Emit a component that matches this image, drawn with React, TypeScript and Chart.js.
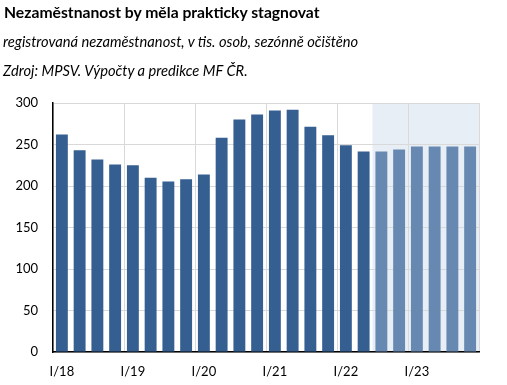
import React, { useEffect, useRef } from "react";
import { Chart, registerables } from "chart.js";

Chart.register(...registerables);

const TITLE = "Nezaměstnanost by měla prakticky stagnovat";
const SUBTITLE = "registrovaná nezaměstnanost, v tis. osob, sezónně očištěno";
const SOURCE = "Zdroj: MPSV. Výpočty a predikce MF ČR.";

const quarters = [
  "I/18", "II/18", "III/18", "IV/18",
  "I/19", "II/19", "III/19", "IV/19",
  "I/20", "II/20", "III/20", "IV/20",
  "I/21", "II/21", "III/21", "IV/21",
  "I/22", "II/22", "III/22", "IV/22",
  "I/23", "II/23", "III/23", "IV/23",
];

const unemployment = [
  262, 243, 232, 226,
  225, 210, 205.5, 208,
  214, 258, 280, 286,
  291, 292, 271.5, 261,
  249, 241.5, 241.5, 244,
  247.5, 247.5, 247.5, 247.5,
];

const FORECAST_START = 18;
const yTicks = [0, 50, 100, 150, 200, 250, 300];

const FONT = "Lato, 'Open Sans', sans-serif";
const DARK = "#355e91";
const LIGHT = "#6788b0";
const SHADE = "#e8eef5";
const GRID = "#d9d9d9";

const shadePlugin = {
  id: "forecastShade",
  beforeDraw(chart: any) {
    const { ctx, chartArea, scales } = chart;
    const x = scales.x;
    const left =
      (x.getPixelForValue(FORECAST_START - 1) + x.getPixelForValue(FORECAST_START)) / 2;
    ctx.save();
    ctx.fillStyle = SHADE;
    ctx.fillRect(left, chartArea.top, chartArea.right - left, chartArea.bottom - chartArea.top);
    ctx.restore();
  },
};

export default function App() {
  const ref = useRef<HTMLCanvasElement | null>(null);

  useEffect(() => {
    if (!ref.current) return;
    const chart = new Chart(ref.current, {
      type: "bar",
      data: {
        labels: quarters,
        datasets: [
          {
            data: unemployment,
            backgroundColor: unemployment.map((_, i) => (i >= FORECAST_START ? LIGHT : DARK)),
            borderWidth: 0,
            categoryPercentage: 1,
            barPercentage: 0.67,
          },
        ],
      },
      options: {
        responsive: false,
        animation: false,
        layout: { padding: { top: 103, right: 28, left: 0, bottom: 0 } },
        plugins: {
          legend: { display: false },
          tooltip: { enabled: false },
        },
        scales: {
          x: {
            offset: true,
            afterFit: (s: any) => {
              s.height = 33;
            },
            grid: {
              offset: true,
              drawTicks: false,
              color: (ctx: any) =>
                ctx.index === undefined || ctx.index % 4 === 0 ? GRID : "rgba(0,0,0,0)",
            },
            border: { display: true, color: "#000", width: 1.5 },
            ticks: {
              autoSkip: false,
              maxRotation: 0,
              minRotation: 0,
              padding: 12,
              color: "#000",
              font: { family: FONT, size: 13 },
              callback: (_v: any, i: number) => (i % 4 === 0 ? quarters[i] : ""),
            },
          },
          y: {
            min: yTicks[0],
            max: yTicks[yTicks.length - 1],
            afterFit: (s: any) => {
              s.width = 53;
            },
            afterBuildTicks: (s: any) => {
              s.ticks = yTicks.map((v) => ({ value: v }));
            },
            grid: { color: GRID, drawTicks: false },
            border: { display: true, color: "#000", width: 1.5 },
            ticks: {
              padding: 15,
              color: "#000",
              font: { family: FONT, size: 13 },
            },
          },
        },
      },
      plugins: [shadePlugin],
    });
    return () => chart.destroy();
  }, []);

  return (
    <div style={{ position: "absolute", left: 0, top: 0, width: 507, height: 385, background: "#fff" }}>
      <canvas ref={ref} width={507} height={385} style={{ position: "absolute", left: 0, top: 0, display: "block" }} />
      <div
        style={{
          position: "absolute",
          left: 4,
          top: 2,
          fontFamily: FONT,
          fontWeight: 700,
          fontSize: 15.7,
          color: "#000",
          whiteSpace: "nowrap",
          lineHeight: "20px",
        }}
      >
        {TITLE}
      </div>
      <div
        style={{
          position: "absolute",
          left: 3,
          top: 31,
          fontFamily: FONT,
          fontStyle: "italic",
          fontSize: 14.7,
          color: "#000",
          whiteSpace: "nowrap",
          lineHeight: "20px",
        }}
      >
        {SUBTITLE}
      </div>
      <div
        style={{
          position: "absolute",
          left: 3,
          top: 60,
          fontFamily: FONT,
          fontStyle: "italic",
          fontSize: 14.7,
          color: "#000",
          whiteSpace: "nowrap",
          lineHeight: "20px",
        }}
      >
        {SOURCE}
      </div>
    </div>
  );
}
